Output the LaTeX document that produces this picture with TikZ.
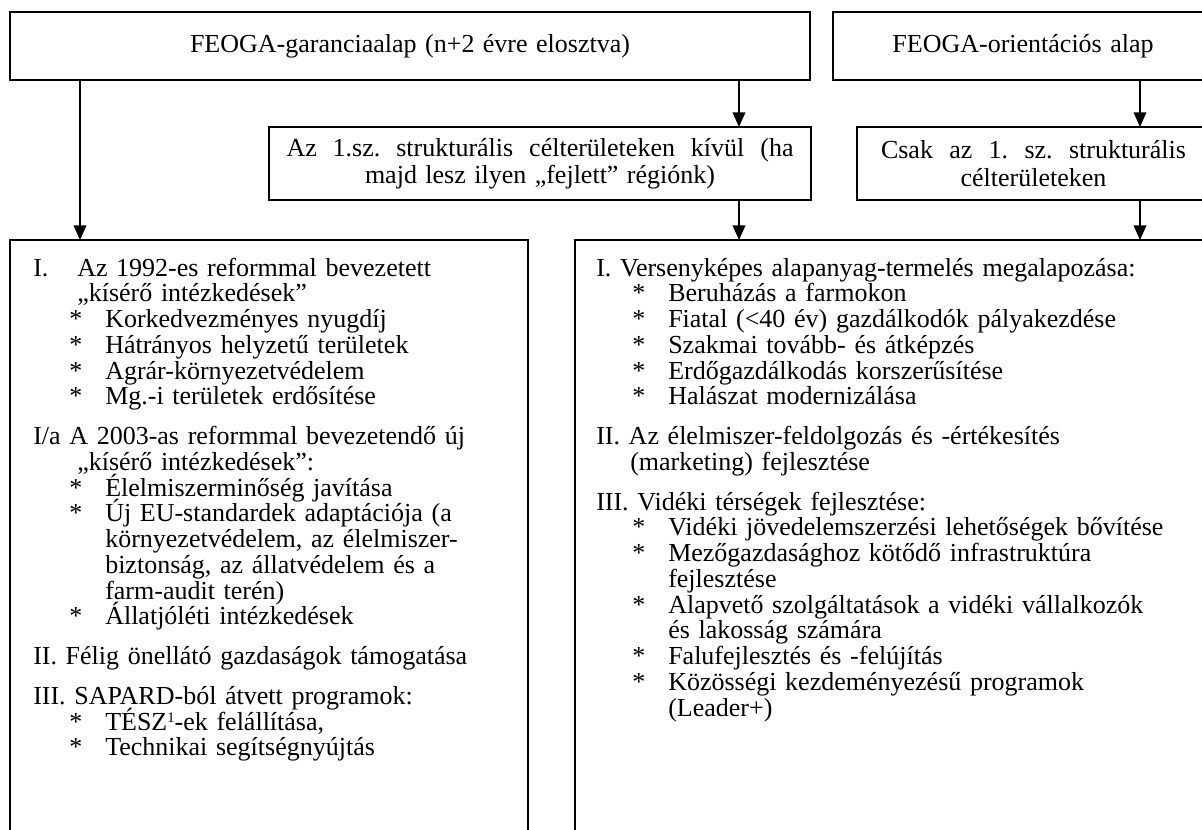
\documentclass[tikz,border=0pt]{standalone}
\usepackage{fontspec}
\setmainfont{Liberation Serif}[WordSpace=1.3]
\usetikzlibrary{arrows.meta}
\frenchspacing
\newcommand\mainsize{\fontsize{19.5pt}{19.3pt}\selectfont\frenchspacing\setlength\lineskiplimit{-100pt}\setlength\lineskip{0pt}}
\newcommand\midsize{\fontsize{19.5pt}{20.5pt}\selectfont\frenchspacing\setlength\lineskiplimit{-100pt}\setlength\lineskip{0pt}}
\newcommand\bul{\hspace*{27pt}\makebox[27pt][l]{*}}
\newcommand\myind[1]{\hspace*{#1}}
\newcommand\supone{\raisebox{5.5pt}{\fontsize{11pt}{11pt}\selectfont 1}}
\begin{document}
\begin{tikzpicture}[x=0.75pt,y=-0.75pt,
  boxst/.style={draw=black, line width=1.5pt, fill=white, inner sep=0pt, outer sep=0pt, rectangle},
  arr/.style={line width=1.1pt, -{Triangle[length=11pt,width=9.5pt]}},
  listst/.style={font=\mainsize, inner sep=0pt, anchor=north west, align=left}
]
\useasboundingbox (0,0) rectangle (1202,830);
\fill[white] (0,0) rectangle (1202,830);
\clip (0,0) rectangle (1202,830);

% top boxes
\node[boxst, minimum width=600pt, minimum height=51pt, font=\mainsize] (A) at (410,46) {FEOGA-garanciaalap (n+2 évre elosztva)};
\node[boxst, minimum width=285pt, minimum height=51pt, font=\mainsize] (B) at (1023,46) {FEOGA-orientációs alap};

% middle boxes
\node[boxst, minimum width=406.5pt, minimum height=54.75pt, font=\midsize, align=center] (C) at (540,163.5)
  {\makebox[380.25pt][s]{Az 1.sz. strukturális célterületeken kívül (ha}\\ majd lesz ilyen „fejlett” régiónk)};
\node[boxst, minimum width=264.75pt, minimum height=54.75pt, font=\midsize, align=center] (D) at (1033.5,163.5)
  {\makebox[228.75pt][s]{Csak az 1. sz. strukturális}\\ célterületeken};

% bottom boxes
\node[boxst, minimum width=388.5pt, minimum height=495pt] (E) at (269,570) {};
\node[boxst, minimum width=491.25pt, minimum height=495pt] (F) at (902.5,570) {};

% left list
\node[listst, text width=400pt] (EL) at (33,256) {%
\rule{0pt}{15pt}\makebox[33pt][l]{I.}\makebox[276pt][s]{Az 1992-es reformmal bevezetett}\\
\myind{33pt}„kísérő intézkedések”\\
\bul Korkedvezményes nyugdíj\\
\bul Hátrányos helyzetű területek\\
\bul Agrár-környezetvédelem\\
\bul Mg.-i területek erdősítése\\[10.5pt]
\makebox[327.75pt][s]{I/a A 2003-as reformmal bevezetendő új}\\
\myind{33pt}„kísérő intézkedések”:\\
\bul Élelmiszerminőség javítása\\
\bul \makebox[273.75pt][s]{Új EU-standardek adaptációja (a}\\
\myind{54pt}\makebox[273.75pt][s]{környezetvédelem, az élelmiszer-}\\
\myind{54pt}\makebox[273.75pt][s]{biztonság, az állatvédelem és a}\\
\myind{54pt}farm-audit terén)\\
\bul Állatjóléti intézkedések\\[10.5pt]
II. Félig önellátó gazdaságok támogatása\\[10.5pt]
III. SAPARD-ból átvett programok:\\
\bul TÉSZ\supone-ek felállítása,\\
\bul Technikai segítségnyújtás};

% right list
\node[listst, text width=440pt] (FL) at (596,256) {%
\rule{0pt}{15pt}\makebox[419pt][s]{I. Versenyképes alapanyag-termelés megalapozása:}\\
\bul Beruházás a farmokon\\
\bul Fiatal (<40 év) gazdálkodók pályakezdése\\
\bul Szakmai tovább- és átképzés\\
\bul Erdőgazdálkodás korszerűsítése\\
\bul Halászat modernizálása\\[10.5pt]
II. Az élelmiszer-feldolgozás és -értékesítés\\
\myind{25.5pt}(marketing) fejlesztése\\[10.5pt]
III. Vidéki térségek fejlesztése:\\
\bul Vidéki jövedelemszerzési lehetőségek bővítése\\
\bul Mezőgazdasághoz kötődő infrastruktúra\\
\myind{54pt}fejlesztése\\
\bul \makebox[367.5pt][s]{Alapvető szolgáltatások a vidéki vállalkozók}\\
\myind{54pt}és lakosság számára\\
\bul Falufejlesztés és -felújítás\\
\bul Közösségi kezdeményezésű programok\\
\myind{54pt}(Leader+)};

% connectors
\coordinate (xl) at (80,0);
\coordinate (xm) at (739,0);
\coordinate (xr) at (1140,0);
\draw[arr] (xl |- A.south) -- (xl |- E.north);
\draw[arr] (xm |- A.south) -- (xm |- C.north);
\draw[arr] (xr |- B.south) -- (xr |- D.north);
\draw[arr] (xm |- C.south) -- (xm |- F.north);
\draw[arr] (xr |- D.south) -- (xr |- F.north);
\end{tikzpicture}
\end{document}
